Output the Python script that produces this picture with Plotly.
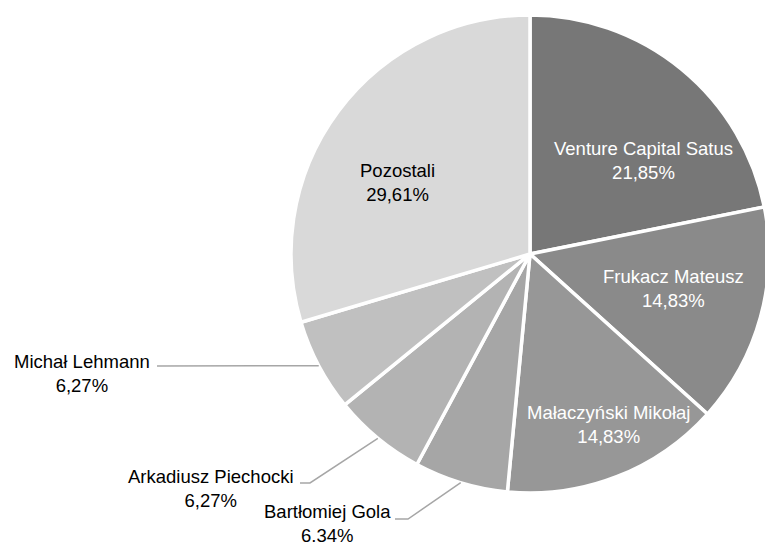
import math
import plotly.graph_objects as go

# ---- data ----
labels = ["Venture Capital Satus", "Frukacz Mateusz", "Małaczyński Mikołaj",
          "Bartłomiej Gola", "Arkadiusz Piechocki", "Michał Lehmann", "Pozostali"]
values = [21.85, 14.83, 14.83, 6.34, 6.27, 6.27, 29.61]
pct_text = ["21,85%", "14,83%", "14,83%", "6.34%", "6,27%", "6,27%", "29,61%"]
colors = ["#777777", "#8a8a8a", "#979797", "#a6a6a6", "#b3b3b3", "#c0c0c0", "#d9d9d9"]

W, H = 772, 549          # figure slightly wider than the 765 view; right edge of pie is clipped as in reference
FONT = "Liberation Sans, Arial, sans-serif"
FS = 18.5

# pie placement (pixels)
dom_x = [288 / W, 1.0]
dom_y = [56 / H, 534 / H]
cx = W * (dom_x[0] + dom_x[1]) / 2
cy = H * (1 - (dom_y[0] + dom_y[1]) / 2)
R = min(W * (dom_x[1] - dom_x[0]), H * (dom_y[1] - dom_y[0])) / 2


def px(x):
    return x / W


def py(y):
    return 1 - y / H


def edge_point(i):
    total = sum(values)
    start = sum(values[:i])
    mid = (start + values[i] / 2) / total * 2 * math.pi
    return cx + R * math.sin(mid), cy - R * math.cos(mid)


fig = go.Figure(go.Pie(
    labels=labels, values=values, sort=False, direction="clockwise", rotation=0,
    marker=dict(colors=colors, line=dict(color="white", width=3.5)),
    textinfo="none", hoverinfo="skip", showlegend=False,
    domain=dict(x=dom_x, y=dom_y),
))

# label placements (pixel centers) and styles
inside_pos = {0: (643, 160), 1: (673, 288), 2: (608, 424), 6: (397, 182)}
inside_col = {0: "white", 1: "white", 2: "white", 6: "black"}
outside_pos = {5: (82, 373), 4: (211, 488), 3: (327, 523)}
# leader line start (label side) and elbow
leader_pts = {5: [(157, 366)], 4: [(300, 483), (310, 483)], 3: [(395, 519), (408, 519)]}

annotations = []
for i, (x, y) in inside_pos.items():
    annotations.append(dict(
        x=px(x), y=py(y), xref="paper", yref="paper", showarrow=False,
        text=f"{labels[i]}<br>{pct_text[i]}", align="center",
        xanchor="center", yanchor="middle",
        font=dict(family=FONT, size=FS, color=inside_col[i])))
for i, (x, y) in outside_pos.items():
    annotations.append(dict(
        x=px(x), y=py(y), xref="paper", yref="paper", showarrow=False,
        text=f"{labels[i]}<br>{pct_text[i]}", align="center",
        xanchor="center", yanchor="middle",
        font=dict(family=FONT, size=FS, color="black")))

shapes = []
for i, pts in leader_pts.items():
    ex, ey = edge_point(i)
    path_pts = pts + [(ex, ey)]
    d = "M " + " L ".join(f"{px(a)},{py(b)}" for a, b in path_pts)
    shapes.append(dict(type="path", xref="paper", yref="paper", path=d,
                       line=dict(color="#a6a6a6", width=1.5)))

fig.update_layout(
    width=W, height=H, margin=dict(l=0, r=0, t=0, b=0),
    paper_bgcolor="white", plot_bgcolor="white",
    annotations=annotations, shapes=shapes,
)

fig.write_html(
    "out.html",
    config={"displayModeBar": False},
    post_script=("document.body.style.margin='0';"
                 "document.body.style.overflow='hidden';"
                 "document.documentElement.style.overflow='hidden';"),
)
